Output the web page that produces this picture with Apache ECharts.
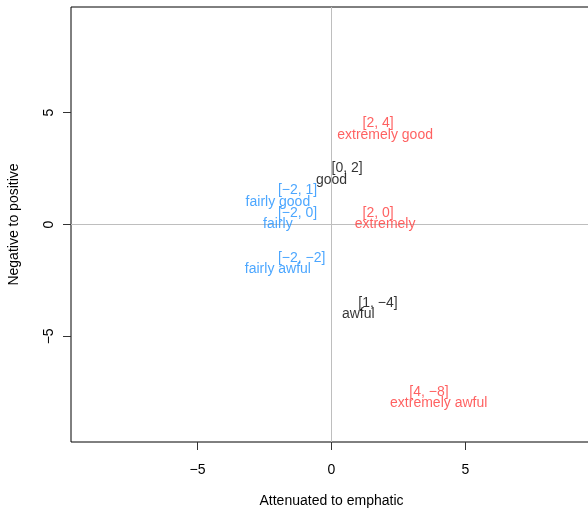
<!DOCTYPE html>
<html><head><meta charset="utf-8">
<script src="https://cdn.jsdelivr.net/npm/echarts@6/dist/echarts.min.js"></script>
<style>html,body{margin:0;padding:0;background:#fff}#chart{width:588px;height:509px}</style>
</head><body><div id="chart"></div>
<script>
// ---- data ----
const words = ['extremely good','good','fairly good','fairly','extremely','fairly awful','awful','extremely awful'];
const attenuation = [2, 0, -2, -2, 2, -2, 1, 4];
const valence = [4, 2, 1, 0, 0, -2, -4, -8];
const wordGroup = ['extremely','plain','fairly','fairly','extremely','fairly','plain','extremely'];
const xTicks = [-5, 0, 5];
const yTicks = [-5, 0, 5];
const referenceX = 0;
const referenceY = 0;
const xTitle = 'Attenuated to emphatic';
const yTitle = 'Negative to positive';
const axisLimit = 9.72;

// ---- styles ----
const groupColor = {extremely:'#FF3A3A', fairly:'#1E90FF', plain:'#000000'};
const coordShift = [[-22.6,-12],[0,-11.6],[0,-12.3],[0,-11.4],[-22.6,-11],[0,-11.5],[0,-11],[-29.4,-11.5]];
const FONT = '"Liberation Sans", Arial, Helvetica, sans-serif';
const FS = 14;
const fmt = v => (v < 0 ? '\u2212' + Math.abs(v) : String(v));

const nameData = words.map((w,i)=>({name:w, value:[attenuation[i], valence[i]],
  label:{color:groupColor[wordGroup[i]]}}));
const coordData = words.map((w,i)=>({name:w, value:[attenuation[i], valence[i]],
  label:{color:groupColor[wordGroup[i]], offset:coordShift[i]}}));

const chart = echarts.init(document.getElementById('chart'), null, {renderer:'canvas'});
chart.setOption({
  animation:false,
  backgroundColor:'#ffffff',
  textStyle:{fontFamily:FONT},
  grid:{left:71, top:7, width:521, height:435, outerBoundsMode:'none', containLabel:false,
    show:true, borderColor:'#000', borderWidth:1, backgroundColor:'transparent'},
  xAxis:{
    type:'value', position:'bottom', min:-axisLimit, max:axisLimit,
    axisLine:{show:false, onZero:false}, splitLine:{show:false},
    axisTick:{show:true, customValues:xTicks, length:8, lineStyle:{color:'#333', width:1}},
    axisLabel:{show:true, customValues:xTicks, formatter:fmt, margin:21, fontSize:FS, color:'#000', fontFamily:FONT},
    name:xTitle, nameLocation:'middle', nameGap:52,
    nameTextStyle:{fontSize:FS, color:'#000', fontFamily:FONT}
  },
  yAxis:{
    type:'value', position:'left', min:-axisLimit, max:axisLimit,
    axisLine:{show:false, onZero:false}, splitLine:{show:false},
    axisTick:{show:true, customValues:yTicks, length:8, lineStyle:{color:'#333', width:1}},
    axisLabel:{show:true, customValues:yTicks, formatter:fmt, rotate:90, margin:15, fontSize:FS, color:'#000', fontFamily:FONT},
    name:yTitle, nameLocation:'middle', nameGap:50,
    nameTextStyle:{fontSize:FS, color:'#000', fontFamily:FONT}
  },
  series:[{
    type:'scatter', name:'words',
    symbol:'circle', symbolSize:1, itemStyle:{color:'rgba(0,0,0,0)'},
    emphasis:{disabled:true}, silent:true, z:3,
    label:{show:true, position:'inside', formatter:p=>p.name, fontSize:FS, fontFamily:FONT,
      align:'center', verticalAlign:'middle', offset:[0,0]},
    markLine:{silent:true, symbol:['none','none'], animation:false, z:1,
      lineStyle:{color:'#BEBEBE', type:'solid', width:1}, label:{show:false},
      emphasis:{disabled:true},
      data:[{xAxis:referenceX},{yAxis:referenceY}]},
    data:nameData
  },{
    type:'scatter', name:'coords',
    symbol:'circle', symbolSize:1, itemStyle:{color:'rgba(0,0,0,0)'},
    emphasis:{disabled:true}, silent:true, z:3,
    label:{show:true, position:'inside',
      formatter:p=>'[' + fmt(p.value[0]) + ', ' + fmt(p.value[1]) + ']',
      fontSize:FS, fontFamily:FONT, align:'left', verticalAlign:'middle'},
    data:coordData
  }]
});
</script>
</body></html>
